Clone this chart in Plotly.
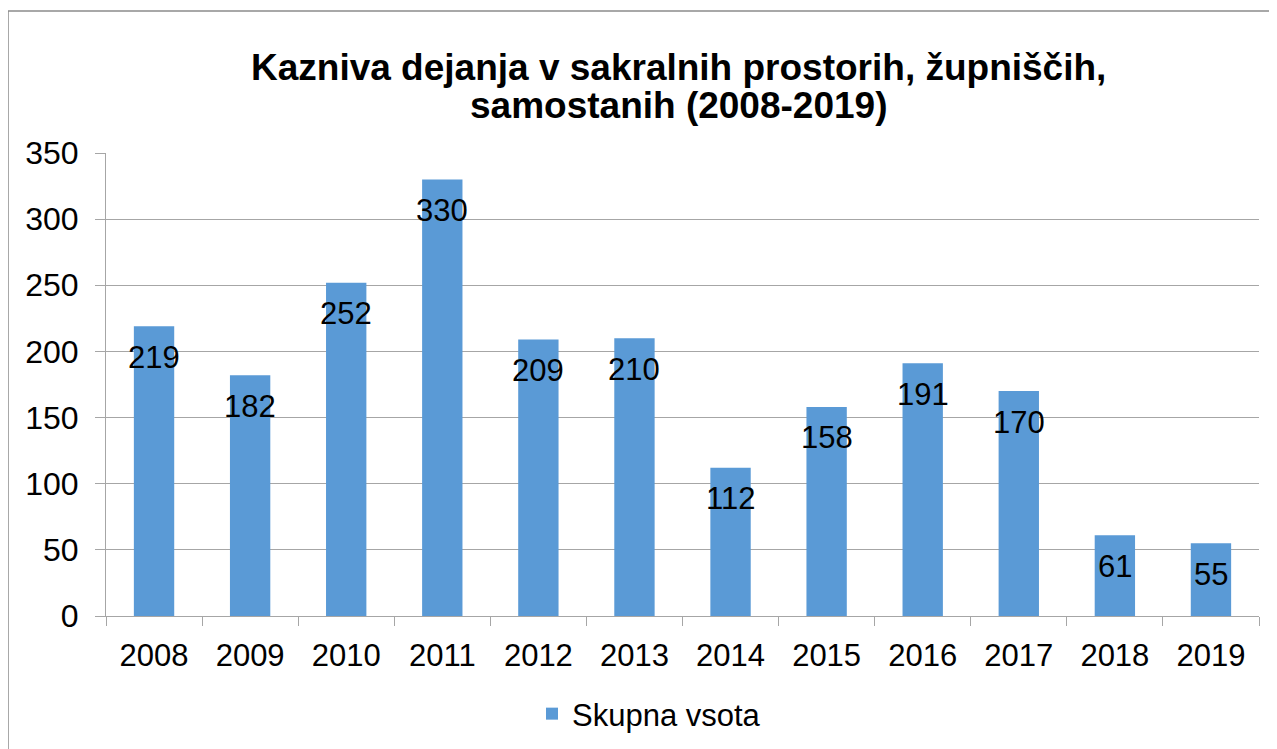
import plotly.graph_objects as go

years = ["2008", "2009", "2010", "2011", "2012", "2013", "2014", "2015", "2016", "2017", "2018", "2019"]
values = [219, 182, 252, 330, 209, 210, 112, 158, 191, 170, 61, 55]
series_name = "Skupna vsota"
title_lines = ["Kazniva dejanja v sakralnih prostorih, župniščih,", "samostanih (2008-2019)"]

FONT = "Liberation Sans, Arial, sans-serif"
GRID = "#A6A6A6"

# page body adds ~8px offset; figure coordinates below are screen - 8
W, H = 1269, 741
L, R, T, B = 98, 18, 145, 133
pw = W - L - R
ph = H - T - B

fig = go.Figure()
fig.add_trace(go.Bar(
    x=years, y=values, name=series_name,
    marker=dict(color="#5A9AD6", line=dict(width=0)),
    showlegend=True,
))

for i, v in enumerate(values):
    fig.add_annotation(x=i, y=v, xref="x", yref="y", text=str(v), showarrow=False,
                       yshift=-31, font=dict(family=FONT, size=31, color="#000000"))

# title lines (figure pixel positions)
title_y = [60, 98]
for line, yc in zip(title_lines, title_y):
    fig.add_annotation(xref="paper", yref="paper", x=(670 - L) / pw, y=(H - B - yc) / ph,
                       xanchor="center", yanchor="middle", showarrow=False,
                       text="<b>" + line + "</b>",
                       font=dict(family=FONT, size=37, color="#000000"))

fig.add_shape(type="rect", xref="paper", yref="paper",
              x0=(0 - L) / pw, x1=(W + 10 - L) / pw,
              y0=(H - B - (H + 10)) / ph, y1=(H - B - 3) / ph,
              line=dict(color="#8C8C8C", width=1.5), fillcolor="rgba(0,0,0,0)", layer="below")

fig.update_layout(
    width=W, height=H,
    margin=dict(l=L, r=R, t=T, b=B, autoexpand=False),
    paper_bgcolor="white", plot_bgcolor="white",
    bargap=0.58,
    font=dict(family=FONT, size=31, color="#000000"),
    legend=dict(orientation="h", x=(641 - L) / pw, xanchor="center",
                y=(H - B - 706) / ph, yanchor="middle",
                font=dict(family=FONT, size=31, color="#000000"),
                itemwidth=30, bgcolor="rgba(0,0,0,0)"),
    xaxis=dict(type="category", range=[-0.5, len(years) - 0.5], automargin=False,
               showline=True, linecolor=GRID, linewidth=1,
               ticks="outside", tickson="boundaries", ticklen=9, tickcolor=GRID,
               tickfont=dict(family=FONT, size=31), ticklabelstandoff=12,
               tickangle=0, showgrid=False),
    yaxis=dict(range=[0, 350], dtick=50, automargin=False,
               showline=True, linecolor=GRID, linewidth=1,
               ticks="outside", ticklen=10, tickcolor=GRID,
               showgrid=True, gridcolor=GRID, gridwidth=1,
               tickfont=dict(family=FONT, size=32), ticklabelstandoff=10,
               zeroline=False),
)

fig.write_html("out.html")
